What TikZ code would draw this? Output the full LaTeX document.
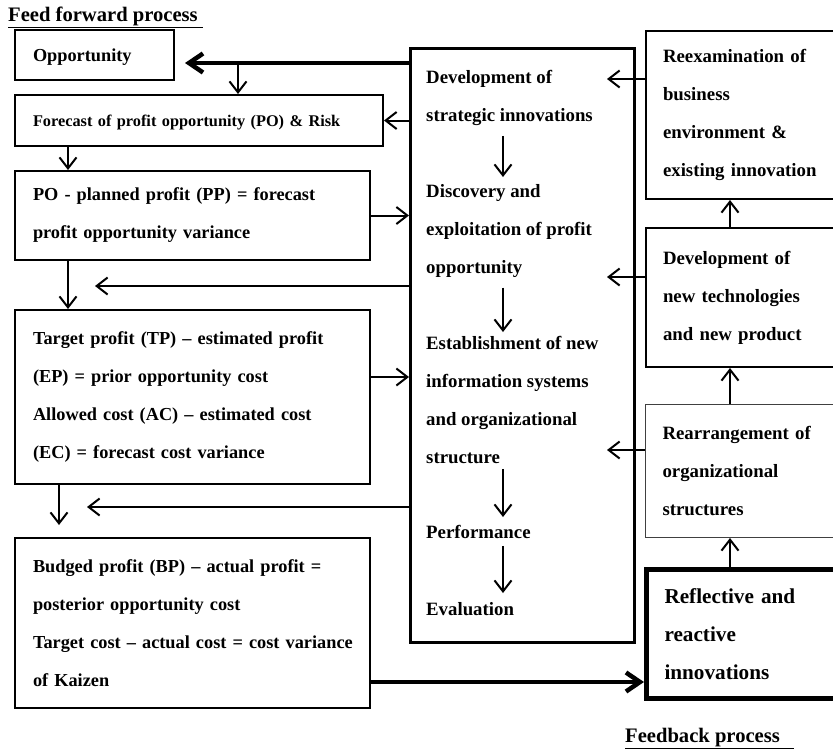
\documentclass[tikz,border=0pt]{standalone}
\usepackage{fontspec}
\setmainfont{Liberation Serif}
\usetikzlibrary{arrows.meta}

\newcommand\bodysize{\fontsize{18.8}{38}\selectfont}
\newcommand\leftsize{\fontsize{18.3}{38}\selectfont}
\newcommand\smallsize{\fontsize{16.3}{38}\selectfont}
\newcommand\bigsize{\fontsize{21.2}{38}\selectfont}

\begin{document}
\begin{tikzpicture}[x=1pt,y=-1pt,
    box/.style={draw, line width=2pt, anchor=north west, inner xsep=18pt, inner ysep=0pt,
      align=left, font=\bfseries\bodysize},
    lbox/.style={box, font=\bfseries\leftsize},
    txt/.style={anchor=north west, inner sep=0pt, align=left, font=\bfseries\bodysize},
    arr/.style={line width=2pt, -{Straight Barb[length=11pt,width=17pt]}},
    fatarr/.style={line width=4.5pt, -{Straight Barb[length=14pt,width=19pt]}}]
    \useasboundingbox (0,0) rectangle (833,748);

    % titles
    \node[anchor=base west, inner sep=0pt, font=\bfseries\fontsize{20.6}{24}\selectfont]
        (fftitle) at (8,21) {\underline{Feed forward process\ }};
    \node[anchor=base west, inner sep=0pt, font=\bfseries\fontsize{20.6}{24}\selectfont]
        (fbtitle) at (625,742) {\underline{Feedback process\hspace{14pt}}};

    % feed forward column
    \node[lbox, minimum height=50pt, text width=123pt, text depth=0pt] (opp) at (14,29) {Opportunity};
    \node[lbox, minimum height=51pt, text width=332pt, text depth=0pt, font=\bfseries\smallsize]
        (fc) at (14,94) {Forecast of profit opportunity (PO) \& Risk};
    \node[lbox, minimum height=89pt, text width=319pt] (po) at (14,170)
        {PO - planned profit (PP) = forecast\\profit opportunity variance};
    \node[lbox, minimum height=174pt, text width=319pt] (tp) at (14,309)
        {Target profit (TP) -- estimated profit\\(EP) = prior opportunity cost\\
         Allowed cost (AC) -- estimated cost\\(EC) = forecast cost variance};
    \node[lbox, minimum height=170pt, text width=319pt] (bp) at (14,537)
        {Budged profit (BP) -- actual profit =\\posterior opportunity cost\\
         \mbox{Target cost -- actual cost = cost variance}\\of Kaizen};

    % innovation column
    \node[draw, line width=3pt, anchor=north west, minimum width=224pt, minimum height=594pt]
        (mid) at (409,47) {};
    \node[txt] (dev) at (426,70) {Development of\\strategic innovations};
    \node[txt] (disc) at (426,184) {Discovery and\\exploitation of profit\\opportunity};
    \node[txt] (estab) at (426,336) {Establishment of new\\information systems\\
        and organizational\\structure};
    \node[txt] (perf) at (426,525) {Performance};
    \node[txt] (eval) at (426,602) {Evaluation};

    % feedback column
    \node[box, inner xsep=17pt, minimum height=168pt, text width=160pt] (rex) at (645,30)
        {Reexamination of\\business\\environment \&\\existing innovation};
    \node[box, inner xsep=17pt, minimum height=139pt, text width=160pt] (dv) at (645,227)
        {Development of\\new technologies\\and new product};
    \node[box, line width=1pt, draw=black!75, inner xsep=17pt, minimum height=133pt,
        text width=160pt] (rr) at (645,404)
        {Rearrangement of\\organizational\\structures};
    \node[box, line width=5pt, inner xsep=18pt, minimum height=129pt, text width=160pt,
        font=\bfseries\bigsize] (refl) at (644,567)
        {Reflective and\\reactive\\innovations};

    % helper coordinates
    \coordinate (split) at (238,63);
    \coordinate (lx) at (68,0);
    \coordinate (back1) at (95,286);
    \coordinate (down1) at (59,525);
    \coordinate (back2) at (87,507);
    \coordinate (ax) at (503,0);
    \coordinate (cx) at (730,0);
    \coordinate (in1) at (607,79);
    \coordinate (in2) at (607,277);
    \coordinate (in3) at (607,450);

    % feed forward connectors
    \draw[fatarr, shorten >=10pt] (mid.west |- split) -- (opp.east |- split);
    \draw[arr] (split) -- (split |- fc.north);
    \draw[arr] (mid.west |- fc.east) -- (fc.east);
    \draw[arr] (fc.south -| lx) -- (po.north -| lx);
    \draw[arr] (po.east) -- (po.east -| mid.west);
    \draw[arr] (po.south -| lx) -- (tp.north -| lx);
    \draw[arr] (mid.west |- back1) -- (back1);
    \draw[arr] (tp.east |- 0,377) -- (mid.west |- 0,377);
    \draw[arr] (tp.south -| down1) -- (down1);
    \draw[arr] (mid.west |- back2) -- (back2);
    \draw[fatarr] (bp.east |- 0,682) -- (refl.west |- 0,682);

    % steps inside the innovation box
    \draw[arr, shorten <=10pt, shorten >=7pt] (dev.south -| ax) -- (disc.north -| ax);
    \draw[arr, shorten <=10pt, shorten >=4pt] (disc.south -| ax) -- (estab.north -| ax);
    \draw[arr, shorten <=5pt, shorten >=8pt] (estab.south -| ax) -- (perf.north -| ax);
    \draw[arr, shorten <=7pt, shorten >=9pt] (perf.south -| ax) -- (eval.north -| ax);

    % feedback connectors
    \draw[arr] (rex.west |- in1) -- (in1);
    \draw[arr] (dv.west |- in2) -- (in2);
    \draw[arr] (rr.west |- in3) -- (in3);
    \draw[arr] (refl.north -| cx) -- (rr.south -| cx);
    \draw[arr] (rr.north -| cx) -- (dv.south -| cx);
    \draw[arr] (dv.north -| cx) -- (rex.south -| cx);
\end{tikzpicture}
\end{document}
